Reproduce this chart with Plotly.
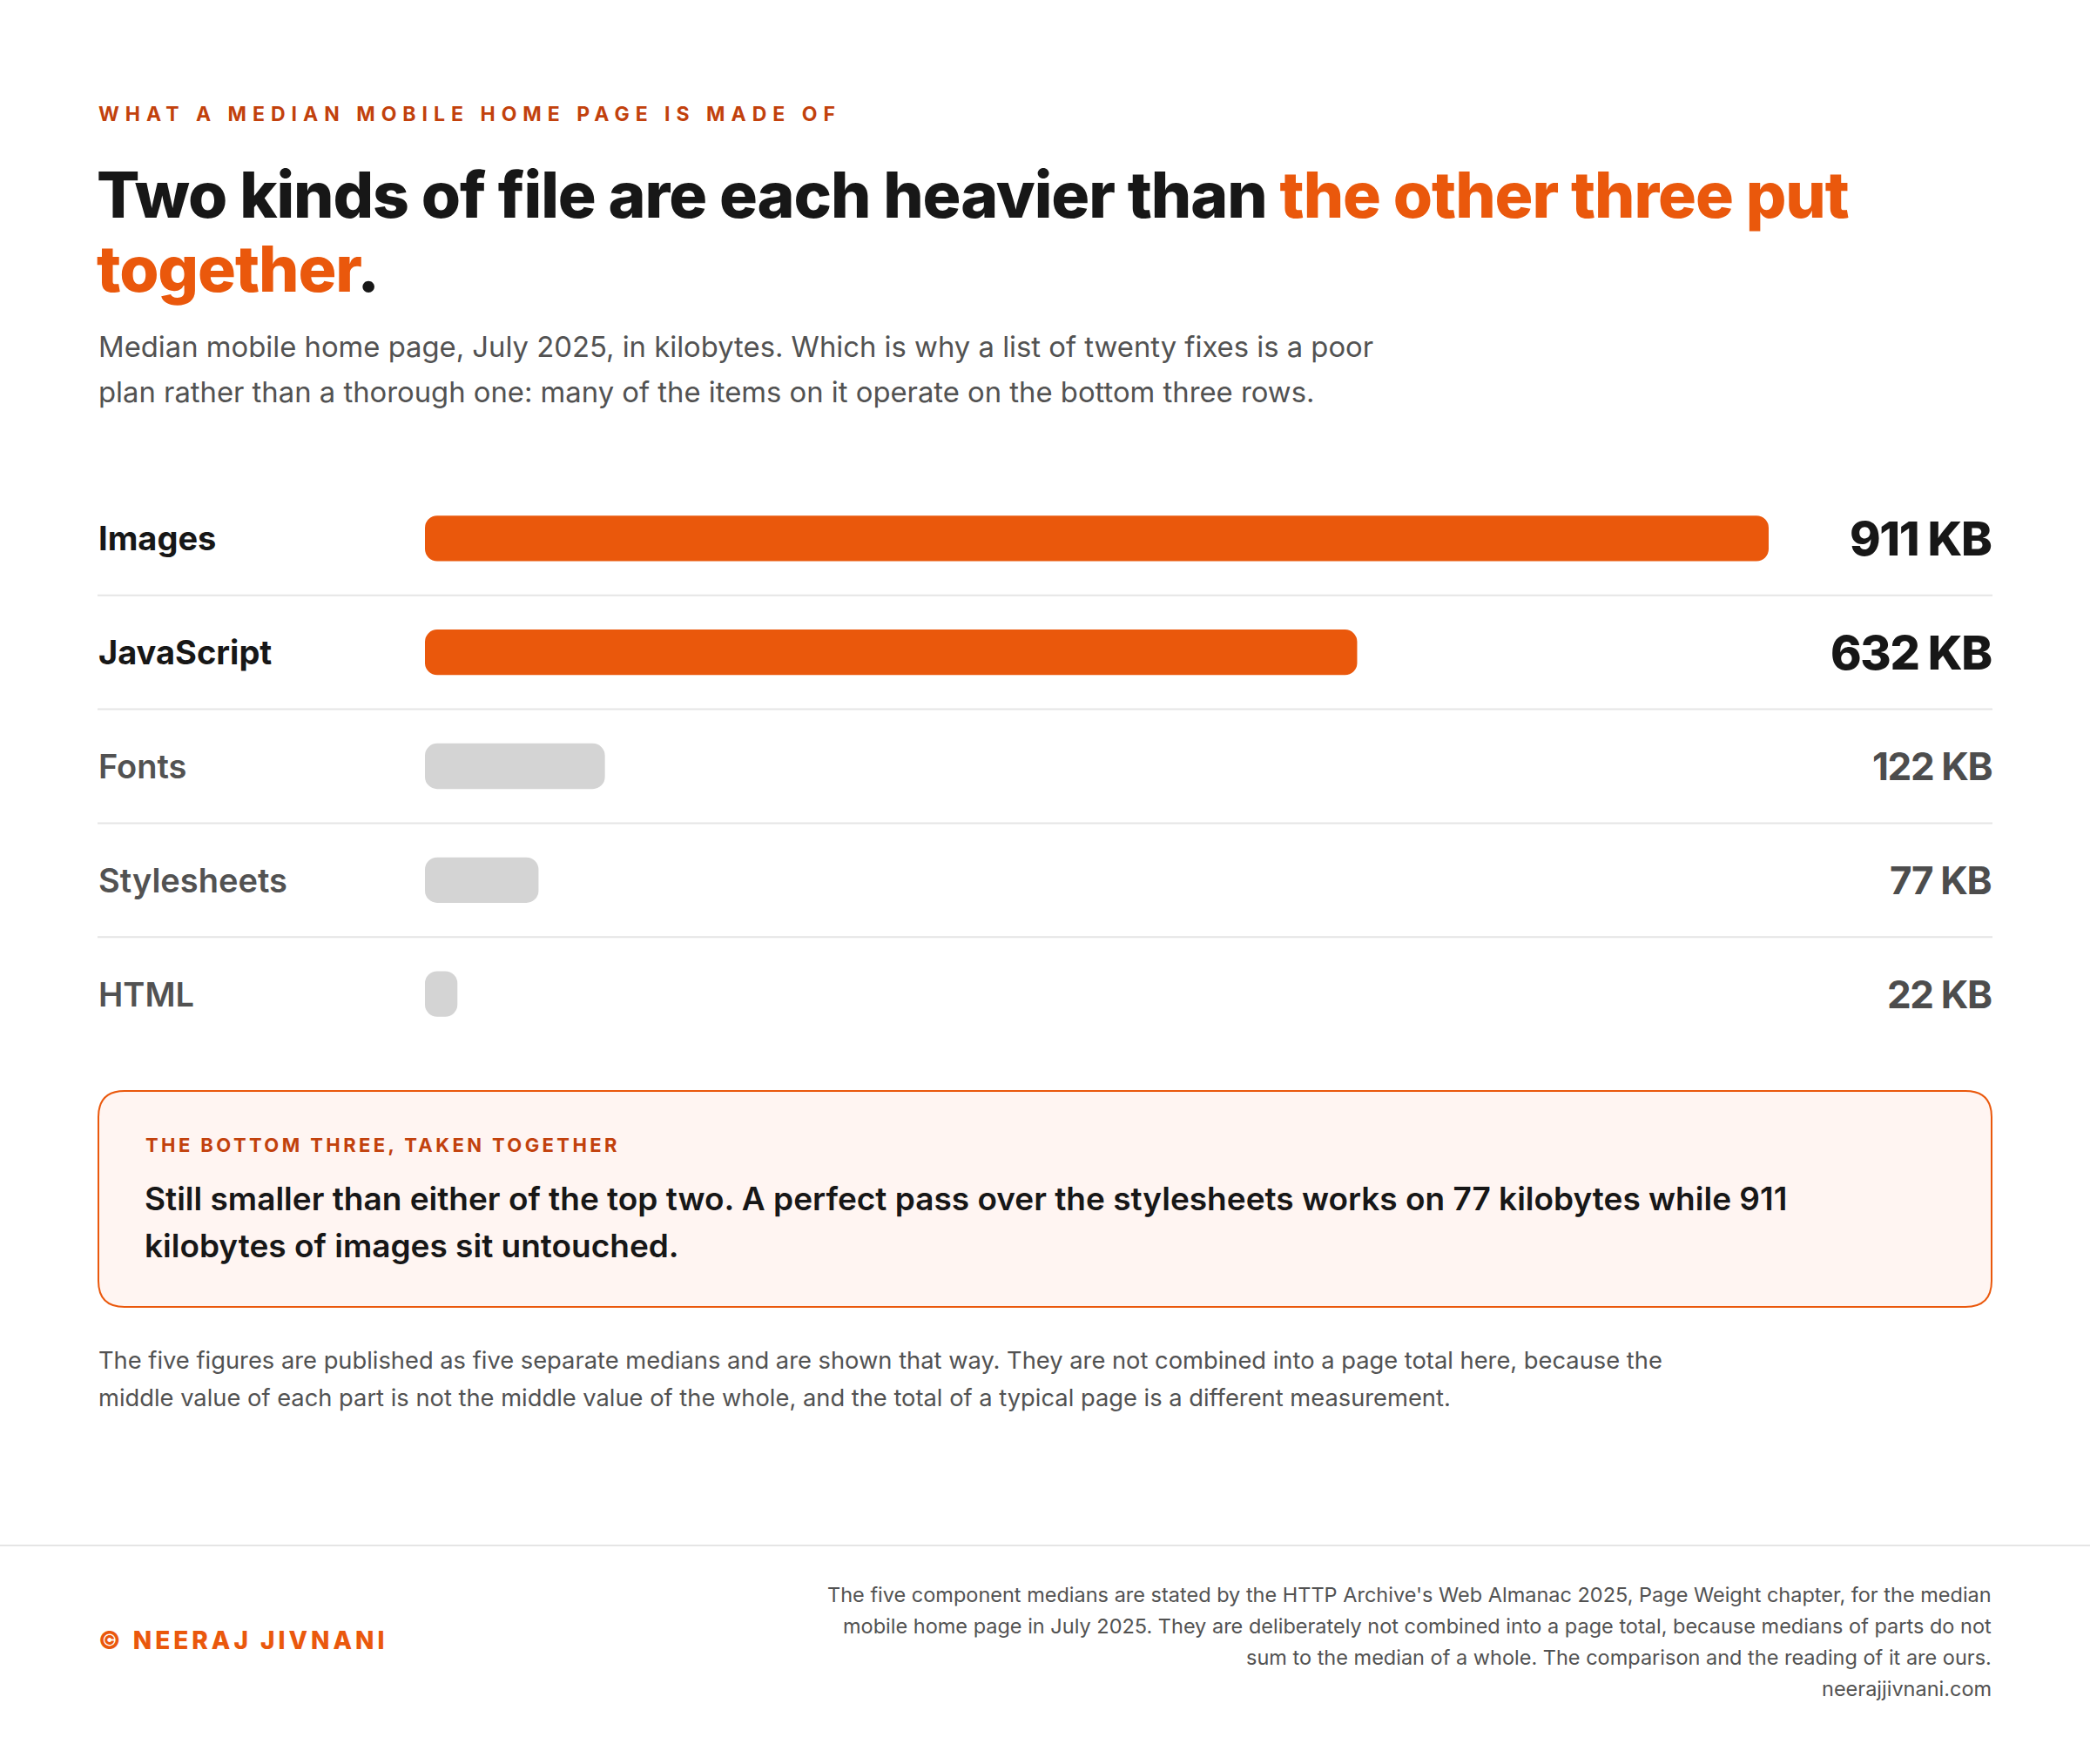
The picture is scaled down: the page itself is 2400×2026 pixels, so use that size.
import plotly.graph_objects as go

# ---------------- data ----------------
categories = ["Images", "JavaScript", "Fonts", "Stylesheets", "HTML"]
values_kb = [911, 632, 122, 77, 22]
unit = "KB"

kicker = "WHAT A MEDIAN MOBILE HOME PAGE IS MADE OF"
title_dark = "Two kinds of file are each heavier than "
title_accent_1 = "the other three put"
title_accent_2 = "together"
subtitle_lines = [
    "Median mobile home page, July 2025, in kilobytes. Which is why a list of twenty fixes is a poor",
    "plan rather than a thorough one: many of the items on it operate on the bottom three rows.",
]
callout_kicker = "THE BOTTOM THREE, TAKEN TOGETHER"
callout_lines = [
    "Still smaller than either of the top two. A perfect pass over the stylesheets works on 77 kilobytes while 911",
    "kilobytes of images sit untouched.",
]
footnote_lines = [
    "The five figures are published as five separate medians and are shown that way. They are not combined into a page total here, because the",
    "middle value of each part is not the middle value of the whole, and the total of a typical page is a different measurement.",
]
credit = "© NEERAJ JIVNANI"
source_lines = [
    "The five component medians are stated by the HTTP Archive's Web Almanac 2025, Page Weight chapter, for the median",
    "mobile home page in July 2025. They are deliberately not combined into a page total, because medians of parts do not",
    "sum to the median of a whole. The comparison and the reading of it are ours.",
    "neerajjivnani.com",
]

# ---------------- styling ----------------
W, H = 2400, 2026
FONT = "Inter"
ORANGE = "#EA580C"
ORANGE_DARK = "#C2410C"
INK = "#171717"
GREY_TEXT = "#525252"
GREY_BAR = "#D4D4D4"
RULE = "#E5E5E5"

LEFT, RIGHT = 112, 2288
BAR_X0, BAR_X1 = 488, 2031
ROW_TOP, ROW_BOTTOM = 553, 1207


def px(x):
    return x / W


def py(y):
    return 1 - y / H


# rows whose value outweighs the bottom three combined are emphasised
bottom_three_total = sum(sorted(values_kb)[:3])
emphasis = [v > bottom_three_total for v in values_kb]
bar_colors = [ORANGE if e else GREY_BAR for e in emphasis]

fig = go.Figure()
fig.add_trace(
    go.Bar(
        y=categories,
        x=values_kb,
        base=0,  # explicit base -> plotly rounds both ends of each bar
        orientation="h",
        marker=dict(color=bar_colors, line=dict(width=0)),
        width=0.4,
        hoverinfo="skip",
    )
)

annotations = []


def text(x, y, s, size, color, weight=400, anchor="left", spacing=None, xref="paper", yref="paper"):
    if spacing is not None:
        s = f"<span style='letter-spacing:{spacing}'>{s}</span>"
    annotations.append(
        dict(
            x=x, y=y, xref=xref, yref=yref, text=s, showarrow=False,
            xanchor=anchor, yanchor="middle", align=anchor, borderpad=0,
            font=dict(family=FONT, size=size, color=color, weight=weight),
        )
    )


# header
text(px(LEFT), py(131), kicker, 23, ORANGE_DARK, 700, spacing="7px")
text(px(LEFT - 2), py(223),
     f"{title_dark}<span style='color:{ORANGE}'>{title_accent_1}</span>",
     73.2, INK, 800, spacing="-1.1px")
text(px(LEFT - 2), py(309),
     f"<span style='color:{ORANGE}'>{title_accent_2}</span>.",
     73.2, INK, 800, spacing="-1.1px")
for i, line in enumerate(subtitle_lines):
    text(px(LEFT), py(398 + 52 * i), line, 32.8, GREY_TEXT, 400)

# row labels and values
for cat, v, e in zip(categories, values_kb, emphasis):
    text(px(LEFT), cat, cat, 38, INK if e else GREY_TEXT, 700 if e else 600, yref="y")
    text(px(RIGHT), cat, f"{v} {unit}", 54 if e else 44, INK if e else "#4D4D4D",
         800 if e else 700, anchor="right", spacing="-1.4px", yref="y")

# callout
text(px(166), py(1315), callout_kicker, 22, ORANGE_DARK, 700, spacing="3.4px")
for i, line in enumerate(callout_lines):
    text(px(165), py(1376 + 54 * i), line, 37, INK, 600)

# footnote
for i, line in enumerate(footnote_lines):
    text(px(LEFT), py(1562 + 43 * i), line, 27.3, GREY_TEXT, 400)

# footer
text(px(LEFT), py(1884), credit, 28, ORANGE, 800, spacing="4px")
for i, line in enumerate(source_lines):
    text(px(RIGHT), py(1831 + 36 * i), line, 23.5, GREY_TEXT, 400, anchor="right")

# shapes
shapes = []
for i in range(len(categories) - 1):
    shapes.append(dict(type="line", xref="paper", yref="y", x0=px(LEFT), x1=px(RIGHT),
                       y0=i + 0.5, y1=i + 0.5, line=dict(color=RULE, width=2), layer="below"))


def rounded_rect(x0, y0, x1, y1, r):
    pts = [
        ("M", [(x0 + r, y0)]), ("L", [(x1 - r, y0)]), ("Q", [(x1, y0), (x1, y0 + r)]),
        ("L", [(x1, y1 - r)]), ("Q", [(x1, y1), (x1 - r, y1)]), ("L", [(x0 + r, y1)]),
        ("Q", [(x0, y1), (x0, y1 - r)]), ("L", [(x0, y0 + r)]), ("Q", [(x0, y0), (x0 + r, y0)]),
    ]
    out = []
    for cmd, ps in pts:
        out.append(cmd + " " + " ".join(f"{px(a):.6f},{py(b):.6f}" for a, b in ps))
    return " ".join(out) + " Z"


shapes.append(dict(type="path", xref="paper", yref="paper",
                   path=rounded_rect(LEFT + 1, 1253, RIGHT - 1, 1501, 30),
                   fillcolor="#FFF5F2", line=dict(color=ORANGE, width=2), layer="below"))
shapes.append(dict(type="line", xref="paper", yref="paper", x0=0, x1=1,
                   y0=py(1775), y1=py(1775), line=dict(color=RULE, width=2), layer="below"))

fig.update_layout(
    width=W, height=H,
    margin=dict(l=0, r=0, t=0, b=0),
    paper_bgcolor="white", plot_bgcolor="white",
    showlegend=False,
    barcornerradius=14,
    xaxis=dict(domain=[px(BAR_X0), px(BAR_X1)], range=[0, max(values_kb)], visible=False, fixedrange=True),
    yaxis=dict(domain=[py(ROW_BOTTOM), py(ROW_TOP)], type="category",
               categoryorder="array", categoryarray=categories,
               range=[len(categories) - 0.5, -0.5], visible=False, fixedrange=True),
    annotations=annotations,
    shapes=shapes,
)

fig.write_html(
    "out.html",
    config={"displayModeBar": False},
    post_script="document.body.style.margin='0';",
)
